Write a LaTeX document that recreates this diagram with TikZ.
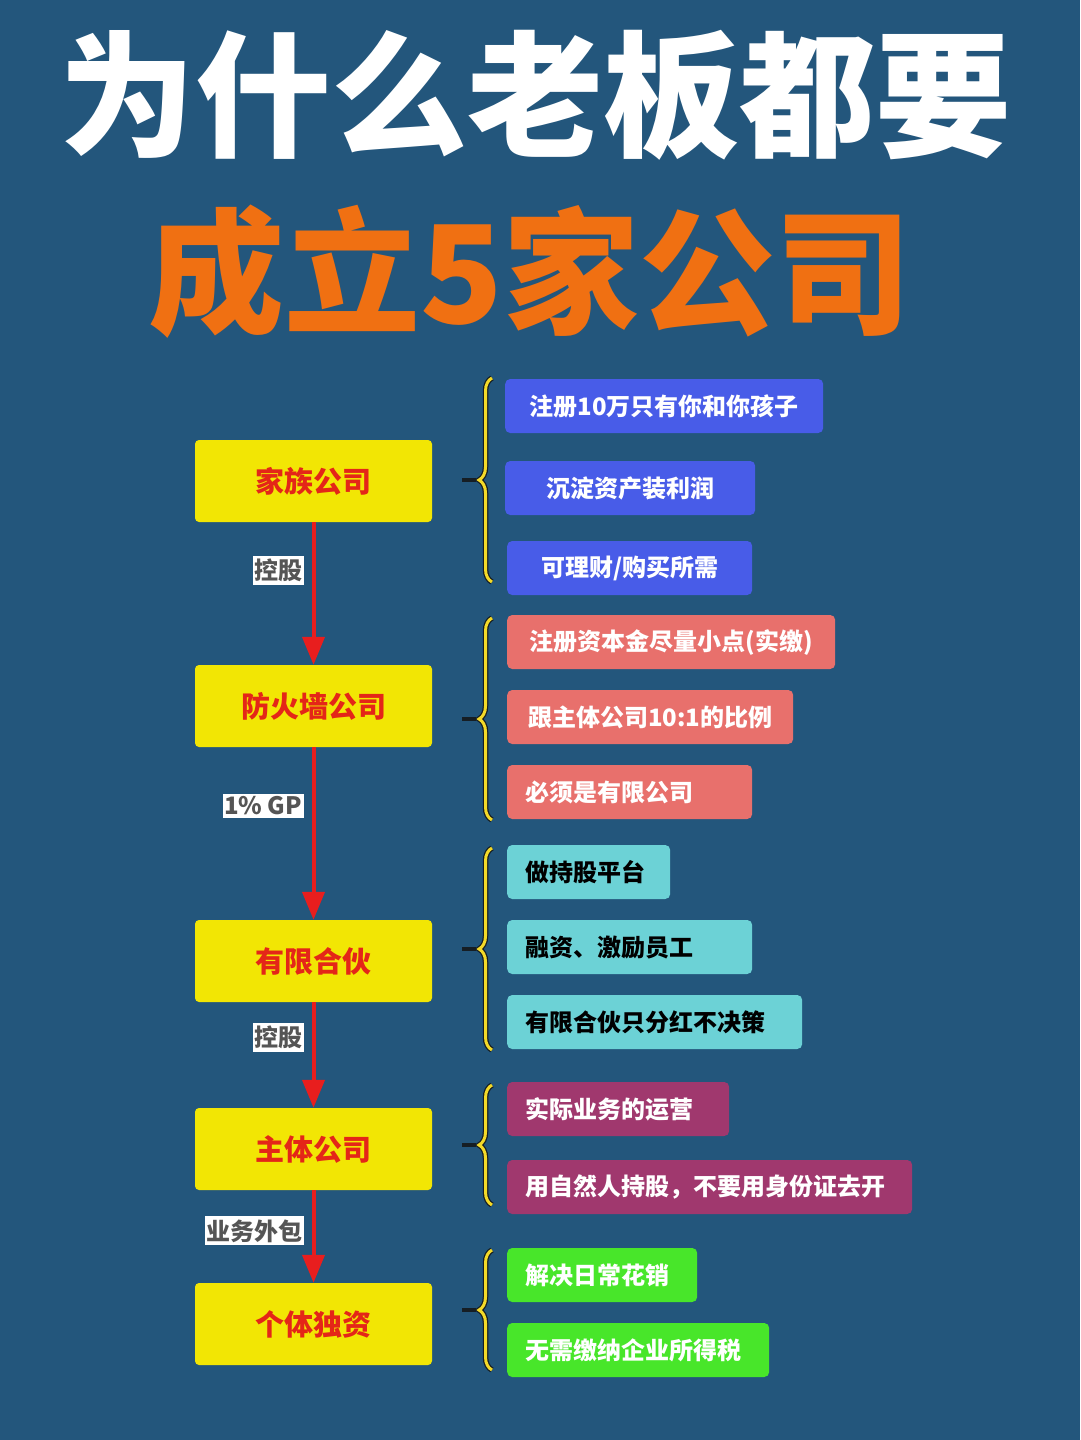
\documentclass[tikz,border=0pt]{standalone}
\usepackage{fontspec}
\setmainfont{Noto Sans CJK SC}
\newfontfamily\heavyfont{Noto Sans CJK SC}[UprightFont=* Black]
\usepackage{tikz}
\usetikzlibrary{positioning, arrows.meta, calc, decorations.pathreplacing}
\definecolor{bgblue}{RGB}{35,86,124}
\definecolor{titleorange}{RGB}{240,112,18}
\definecolor{boxyellow}{RGB}{242,230,4}
\definecolor{boxred}{RGB}{228,38,24}
\definecolor{arrowred}{RGB}{232,30,30}
\definecolor{itemblue}{RGB}{72,92,232}
\definecolor{itemsalmon}{RGB}{232,112,108}
\definecolor{itemcyan}{RGB}{108,210,214}
\definecolor{itempurple}{RGB}{160,56,110}
\definecolor{itemgreen}{RGB}{72,230,42}
\definecolor{bracedark}{RGB}{22,30,36}
\definecolor{braceyellow}{RGB}{244,218,40}
\definecolor{taggray}{RGB}{85,85,85}

\begin{document}
\begin{tikzpicture}[x=1pt, y=-1pt,
    firm/.style={rectangle, rounded corners=4pt, fill=boxyellow, text=boxred,
        minimum width=237pt, minimum height=82pt,
        font=\bfseries\fontsize{29}{32}\selectfont},
    item/.style={rectangle, rounded corners=5pt, anchor=west, text=white,
        minimum height=54pt, inner xsep=10pt,
        font=\bfseries\fontsize{24}{28}\selectfont},
    lefty/.style={inner xsep=18pt, align=left, text width=#1},
    tag/.style={fill=white, text=taggray, inner xsep=1.5pt, inner ysep=3pt,
        font=\bfseries\fontsize{24}{28}\selectfont},
    flow/.style={color=arrowred, line width=4pt,
        -{Triangle[length=28pt, width=22pt, fill=arrowred]}},
    brc/.style={decorate, decoration={brace, amplitude=13pt}},
    ]
    \fill[bgblue] (0,0) rectangle (1080,1440);
    \useasboundingbox (0,0) rectangle (1080,1440);

    % title
    \node[text=white, font=\heavyfont\fontsize{136}{140}\selectfont] (t1) at (535,95) {为什么老板都要};
    \node[text=titleorange, font=\heavyfont\fontsize{136}{140}\selectfont] (t2) at (530,272) {成立5家公司};

    % companies
    \node[firm] (fam) at (313.5,481) {家族公司};
    \node[firm] (fire) at (313.5,706) {防火墙公司};
    \node[firm] (lp) at (313.5,961) {有限合伙};
    \node[firm] (main) at (313.5,1149) {主体公司};
    \node[firm] (sole) at (313.5,1324) {个体独资};

    \path[flow]
    (fam) edge node[tag, left=8pt, pos=0.34] {控股} (fire)
    (fire) edge node[tag, left=8pt, pos=0.34] {1\% GP} (lp)
    (lp) edge node[tag, left=8pt, pos=0.33] {控股} (main)
    (main) edge node[tag, left=8pt, pos=0.44] {业务外包} (sole)
    ;

    % notes
    \node[item, fill=itemblue, minimum width=318pt] (f1) at (505,406) {注册10万只有你和你孩子};
    \node[item, fill=itemblue, minimum width=250pt] (f2) at (505,488) {沉淀资产装利润};
    \node[item, fill=itemblue, minimum width=245pt] (f3) at (507,568) {可理财/购买所需};

    \node[item, fill=itemsalmon, minimum width=328pt] (w1) at (507,642) {注册资本金尽量小点(实缴)};
    \node[item, fill=itemsalmon, minimum width=286pt] (w2) at (507,717) {跟主体公司10:1的比例};
    \node[item, fill=itemsalmon, lefty=209pt] (w3) at (507,792) {必须是有限公司};

    \node[item, fill=itemcyan, text=black, lefty=127pt] (p1) at (507,872) {做持股平台};
    \node[item, fill=itemcyan, text=black, lefty=209pt] (p2) at (507,947) {融资、激励员工};
    \node[item, fill=itemcyan, text=black, lefty=259pt] (p3) at (507,1022) {有限合伙只分红不决策};

    \node[item, fill=itempurple, lefty=186pt] (m1) at (507,1109) {实际业务的运营};
    \node[item, fill=itempurple, lefty=369pt] (m2) at (507,1187) {用自然人持股，不要用身份证去开};

    \node[item, fill=itemgreen, lefty=154pt] (s1) at (507,1275) {解决日常花销};
    \node[item, fill=itemgreen, lefty=226pt] (s2) at (507,1350) {无需缴纳企业所得税};

    % braces
    \foreach \yt/\yb/\yc in {378/582/480, 618/820/719, 848/1050/949, 1085/1205/1145, 1250/1370/1310}{
        \draw[brc, bracedark, line width=5.5pt] (492,\yb) -- (492,\yt);
        \draw[brc, braceyellow, line width=3pt] (492,\yb) -- (492,\yt);
        \draw[bracedark, line width=3.5pt] (462,\yc) -- (476,\yc);
    }
\end{tikzpicture}
\end{document}
